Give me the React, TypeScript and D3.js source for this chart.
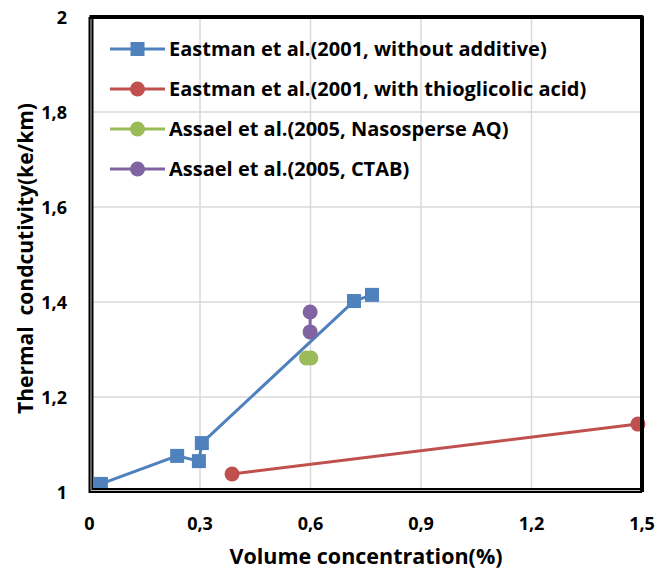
import React from "react";
import * as d3 from "d3";

const W = 659;
const H = 574;

const xTicks = [0, 0.3, 0.6, 0.9, 1.2, 1.5];
const yTicks = [1, 1.2, 1.4, 1.6, 1.8, 2];

const eastmanNoX = [0.031, 0.238, 0.297, 0.305, 0.718, 0.767];
const eastmanNoY = [1.017, 1.076, 1.065, 1.103, 1.402, 1.415];
const eastmanAcidX = [0.387, 1.489];
const eastmanAcidY = [1.038, 1.143];
const assaelNasoX = [0.589, 0.601];
const assaelNasoY = [1.282, 1.282];
const assaelCtabX = [0.599, 0.599];
const assaelCtabY = [1.379, 1.337];

const seriesNames = [
  "Eastman et al.(2001, without additive)",
  "Eastman et al.(2001, with thioglicolic acid)",
  "Assael et al.(2005, Nasosperse AQ)",
  "Assael et al.(2005, CTAB)",
];
const colors = ["#4F81BD", "#C0504D", "#9BBB59", "#8064A2"];
const shapes = ["square", "circle", "circle", "circle"];

const FONT = "'Open Sans', sans-serif";

export default function App() {
  const x = d3.scaleLinear().domain([0, 1.5]).range([89.5, 642]);
  const y = d3.scaleLinear().domain([1, 2]).range([492, 17]);

  const series = [
    { xs: eastmanNoX, ys: eastmanNoY },
    { xs: eastmanAcidX, ys: eastmanAcidY },
    { xs: assaelNasoX, ys: assaelNasoY },
    { xs: assaelCtabX, ys: assaelCtabY },
  ];

  const line = d3
    .line<[number, number]>()
    .x((d) => x(d[0]))
    .y((d) => y(d[1]));

  const marker = (shape: string, cx: number, cy: number, color: string, key: string) =>
    shape === "square" ? (
      <rect key={key} x={cx - 7} y={cy - 7} width={14} height={14} fill={color} />
    ) : (
      <circle key={key} cx={cx} cy={cy} r={7.5} fill={color} />
    );

  const legendY = [49, 89, 129, 169];

  return (
    <svg
      width={W}
      height={H}
      style={{ position: "absolute", left: 0, top: 0, background: "#fff" }}
      fontFamily={FONT}
    >
      <rect x={0} y={0} width={W} height={H} fill="#fff" />
      {/* gridlines */}
      {xTicks.slice(1, -1).map((t) => (
        <line key={"gx" + t} x1={x(t)} x2={x(t)} y1={y(2)} y2={y(1)} stroke="#D9D9D9" strokeWidth={1.5} />
      ))}
      {yTicks.slice(1, -1).map((t) => (
        <line key={"gy" + t} x1={x(0)} x2={x(1.5)} y1={y(t)} y2={y(t)} stroke="#D9D9D9" strokeWidth={1.5} />
      ))}

      {/* series */}
      {series.map((s, i) => {
        const pts = s.xs.map((v, j) => [v, s.ys[j]] as [number, number]);
        return (
          <g key={"s" + i}>
            <path d={line(pts) || ""} fill="none" stroke={colors[i]} strokeWidth={3} />
            {pts.map((p, j) => marker(shapes[i], x(p[0]), y(p[1]), colors[i], `m${i}-${j}`))}
          </g>
        );
      })}

      {/* frame */}
      <path
        d={`M${x(0)},${y(2)} H${x(1.5)} V${y(1)}`}
        fill="none"
        stroke="#000"
        strokeWidth={4}
        strokeLinejoin="round"
      />
      <path
        d={`M${x(0) + 1.5},${y(2)} V${y(1) - 1.5} H${x(1.5)}`}
        fill="none"
        stroke="#000"
        strokeWidth={5}
      />
      <path
        d={`M${x(0) + 1.5},${y(2) + 2} V${y(1) - 1.5} H${x(1.5) - 2}`}
        fill="none"
        stroke="#BFBFBF"
        strokeWidth={1}
      />

      {/* y tick labels */}
      {yTicks.map((t) => (
        <text
          key={"yt" + t}
          x={67}
          y={y(t) + 6.5}
          textAnchor="end"
          fontSize={18}
          fontWeight="bold"
          fill="#000"
        >
          {String(t).replace(".", ",")}
        </text>
      ))}
      {/* x tick labels */}
      {xTicks.map((t) => (
        <text
          key={"xt" + t}
          x={x(t)}
          y={529.5}
          textAnchor="middle"
          fontSize={18}
          fontWeight="bold"
          fill="#000"
        >
          {String(t).replace(".", ",")}
        </text>
      ))}

      {/* axis titles */}
      <text x={366} y={564} textAnchor="middle" fontSize={21.5} fontWeight="bold" fill="#000">
        Volume concentration(%)
      </text>
      <text
        transform={`translate(33,258.5) rotate(-90)`}
        textAnchor="middle"
        fontSize={21}
        fontWeight="bold"
        fill="#000"
        style={{ whiteSpace: "pre" }}
      >
        {"Thermal  condcutivity(ke/km)"}
      </text>

      {/* legend */}
      {seriesNames.map((name, i) => (
        <g key={"lg" + i}>
          <line x1={110} x2={165} y1={legendY[i]} y2={legendY[i]} stroke={colors[i]} strokeWidth={3} />
          {marker(shapes[i], 137.5, legendY[i], colors[i], "lm" + i)}
          <text x={169} y={legendY[i] + 7} fontSize={20} fontWeight="bold" fill="#000">
            {name}
          </text>
        </g>
      ))}
    </svg>
  );
}
